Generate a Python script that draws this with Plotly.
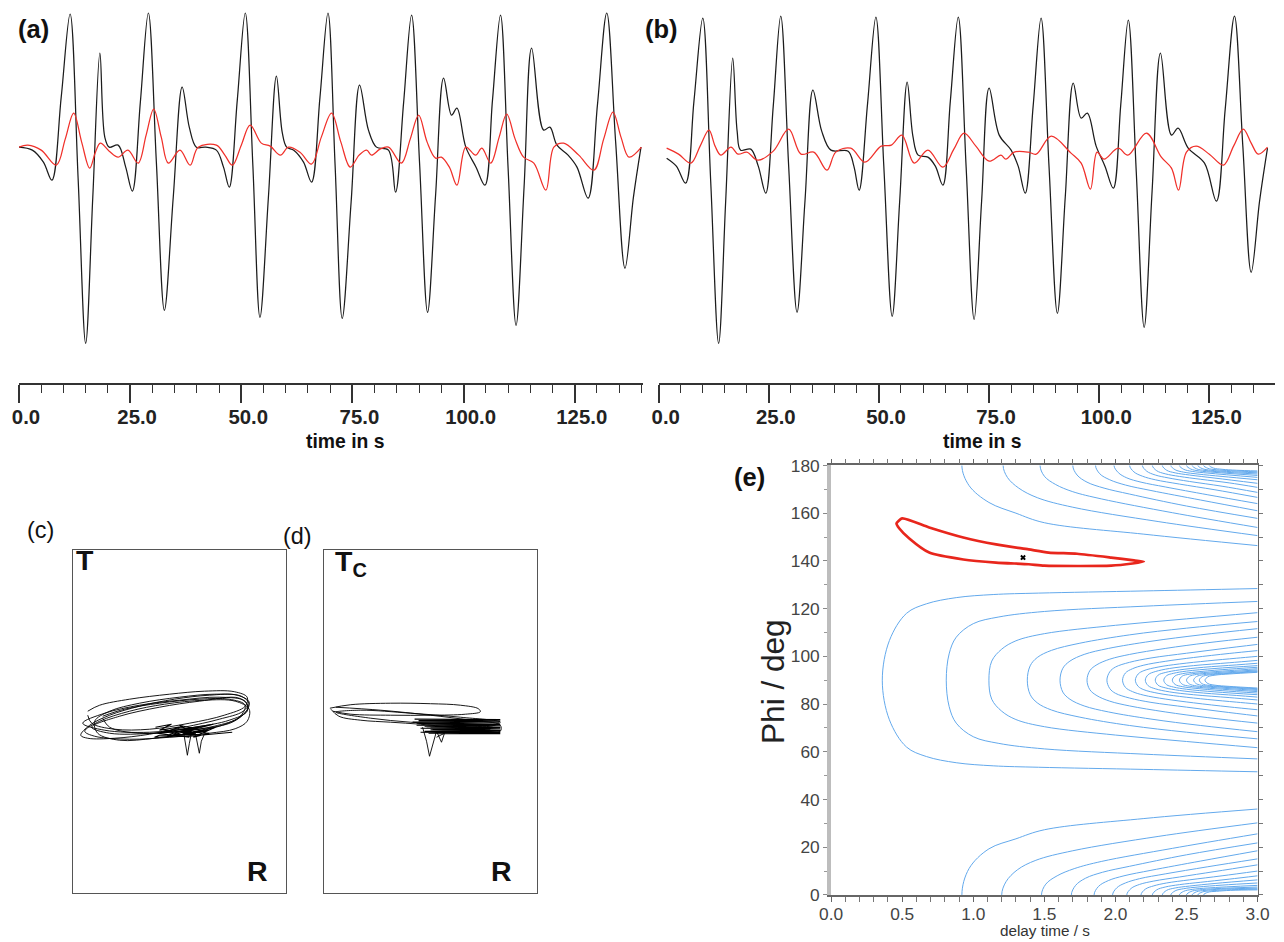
import plotly.graph_objects as go

# The rendered picture was observed to be the page scaled slightly with a small inset;
# layout positions below are given in the reference picture's pixels and mapped back.
SX, BX = 0.985, 9.0
SY, BY = 0.978, 10.0
WF, HF = 1300, 952

# ---------------- data: panel (a) ----------------
A_BLACK_T = [0, 3, 5.5, 7.4, 9.5, 11.5, 13.3, 15.0, 16.6, 18.2, 19.3, 20.3, 22.3, 24.0, 25.5, 27.3, 29.1,
             30.9, 32.7, 34.7, 36.7, 38.3, 39.9, 42, 44.4, 46, 47.3, 49.1, 50.9, 52.6, 54.2, 56.1, 57.9,
             59.2, 60.2, 61.8, 64, 65.8, 67.7, 69.5, 71.1, 72.7, 74.7, 76.6, 78.6, 80.4, 83.1, 84.7,
             86.5, 88.3, 90.1, 91.9, 93.7, 95.5, 97.3, 98.5, 100.5, 102.8, 104.8, 106.5, 108.3, 110,
             111.8, 113.6, 115.3, 118.0, 119.4, 121.0, 123.5, 125.5, 128.0, 130.1, 132.2, 134.2,
             136.3, 138.2, 139.9]
A_BLACK_V = [0, -3, -15, -33, 50, 133, -31, -196, -50, 94, 10, 0, 2, -20, -44, 45, 134,
             -15, -163, -50, 60, 20, 0, 0, -3, -20, -40, 47, 134, -18, -170, -50, 71,
             15, 0, -3, -15, -35, 50, 134, -18, -171, -55, 62, 17, 0, -3, -45,
             44, 132, -16, -165, -48, 69, 32, 39, 0, -20, -38, 47, 132, -20,
             -178, -40, 99, 17, 20, 2, -8, -20, -51, 42, 134, 5,
             -121, -50, 0]
A_RED_T = [0, 2, 5, 8.4, 10.4, 12.3, 14.1, 15.9, 17.2, 18.3, 20.3, 22.3, 24.5, 26.8, 28.6, 30.3, 32.0,
           33.6, 36.2, 38.5, 40.3, 44.4, 46.3, 48.0, 50.0, 52.0, 54.5, 56.5, 58.8, 60.6, 63.2, 65.8,
           68.0, 70.3, 72.4, 74.5, 76.5, 78.2, 79.3, 81.2, 83.1, 86.0, 88.0, 89.9, 91.8, 93.7, 95.0,
           96.8, 98.5, 100.5, 102.7, 104.1, 106.1, 108.0, 109.7, 111.6, 113.5, 115.8, 118.5, 120.3,
           122.5, 125.9, 129.3, 131.5, 133.6, 135.4, 137.2, 140]
A_RED_V = [0, 2, -3, -18, 8, 34, 5, -21, -5, 4, -4, -10, -3, -16, 12, 38, 10,
           -16, -3, -18, 0, 2, -8, -18, 2, 22, 4, 1, -8, 0, -5, -17,
           10, 34, 5, -20, -8, -3, -8, -2, 0, -16, 8, 32, 5, -11, -10,
           -20, -38, 0, -8, -1, -16, 10, 33, 8, -10, -16, -43, 0,
           4, -8, -23, 8, 35, 10, -10, 0]

# ---------------- data: panel (b) ----------------
B_BLACK_T = [1.8, 4, 6.1, 8.0, 10.0, 11.8, 13.6, 15.2, 16.8, 17.8, 18.6, 20.9, 22.6, 24.3, 26.0, 27.7,
             29.5, 31.4, 33.2, 35.0, 37.0, 39.1, 43, 44.3, 45.5, 47.4, 49.3, 51.1, 53.0, 54.7, 56.4,
             57.7, 58.9, 61.1, 62.8, 64.5, 66.2, 68.0, 69.8, 71.6, 73.3, 75.0, 77.3, 80.0, 81.6, 83.2,
             85.0, 86.8, 88.6, 90.5, 92.3, 94.1, 95.9, 97.3, 99.3, 101.3, 103.2, 104.9, 106.6, 108.4,
             110.2, 112.0, 113.9, 116.4, 117.9, 120.2, 123.9, 126.6, 128.6, 130.7, 132.6, 134.5,
             136.4, 138.2]
B_BLACK_V = [-7, -15, -32, 50, 133, -30, -192, -50, 93, 20, 1, 2, -15, -42, 45, 135,
             -15, -161, -50, 61, 20, 1, 0, -15, -39, 47, 134, -15, -165, -50, 69,
             15, -4, -6, -15, -34, 50, 134, -17, -168, -50, 63, 16, 1, -15, -42,
             45, 133, -15, -162, -45, 68, 33, 38, 5, -15, -37, 47, 131, -20,
             -176, -40, 98, 16, 23, 3, -12, -50, 42, 135, 5, -121,
             -50, 3]
B_RED_T = [1.8, 4.5, 7.3, 9.4, 11.4, 12.8, 14.1, 16.4, 18.0, 20.0, 22.5, 26.0, 29.5, 32.3, 35.2, 38.2,
           40.2, 43.6, 46.8, 50.5, 52.8, 55.2, 58.0, 61.1, 64.5, 67.0, 69.3, 72.0, 75.0, 77.7, 78.8,
           80.7, 83.9, 85.7, 89.1, 93.6, 95.9, 98.0, 99.5, 101.1, 104.3, 106.5, 110.7, 114.1, 116.4,
           118.0, 119.8, 122.0, 125.0, 128.2, 130.5, 132.7, 134.5, 136.1, 138.2]
B_RED_V = [3, -3, -12, 5, 21, 5, -4, 4, -3, -1, -9, 0, 22, -3, -1, -19,
           -1, 3, -11, 5, 6, 16, -12, 1, -16, 2, 18, 5, -10, -4, -8,
           -1, -1, -3, 15, -2, -12, -38, -1, -8, 3, -4, 18, -6, -17,
           -39, -1, 5, -3, -14, 5, 22, 8, -3, 4]

# ---------------- data: particle motion (c), (d)  [R, T] ----------------
C_LOOPS_R = [
    [-99, -90, -70, -40, -5, 30, 58, 70, 64, 40, 5, -30, -65, -92, -99],
    [-92, -80, -50, -10, 25, 55, 68, 66, 45, 10, -30, -65, -88, -92],
    [-85, -70, -40, 0, 35, 62, 70, 62, 40, 10, -25, -60, -82, -85],
    [-77, -55, -20, 20, 50, 66, 60, 35, 0, -40, -70, -77],
    [-95, -80, -50, -15, 25, 56, 70, 68, 56, 30, -10, -50, -85, -95],
    [-88, -60, -20, 20, 60, 69, 55, 20, -25, -70, -88],
    [-97, -75, -40, 0, 40, 66, 68, 50, 15, -30, -75, -97],
]
C_LOOPS_T = [
    [-14, -4, 6, 15, 22, 26, 26, 19, 10, 2, -6, -13, -17, -17, -14],
    [10, 16, 22, 27, 30, 29.5, 24, 15, 6, -2, -8, -8, -2, 6],
    [0, 10, 18, 24, 27, 25, 17, 5, -5, -12, -17, -19, -12, 0],
    [5, 12, 18, 22, 22, 16, 4, -5, -10, -12, -6, 3],
    [-10, 0, 10, 17, 21, 20, 12, 0, -7.5, -12, -16, -18, -15, -10],
    [-6, 5, 14, 20, 23, 14, 0, -8, -12, -12, -6],
    [-2, 8, 16, 21, 24, 20, 10, 1, -6, -11, -9, -2],
]
C_KNOT_R = [-24, -8, -20, 4, -16, 12, -10, 20, -2, 28, 6, 36, 14, 30, -4, 22, -18, 10, -22, 34,
            -12, 26, 0, 16, -20, -25, 10, 53]
C_KNOT_T = [-6, -3, -9, -5, -11, -7, -13, -6, -15, -9, -12, -6, -16, -12, -10, -14, -8, -16, -12, -3,
            -15, -10, -4, -13, -14, -16, -15, -11]
C_TAIL_R = [4, 6, 8, 10, 12, 16, 18, 20, 22, 25]
C_TAIL_T = [-10, -22, -34, -22, -12, -12, -22, -32, -20, -13]

D_LOOPS_R = [
    [-101, -80, -40, 0, 30, 48, 50, 35, 0, -40, -80, -98],
    [-100, -92, -70, -40, -10, 20, 50, 70, 70, 40, 0, -50, -95],
    [-95, -60, -20, 20, 60, 70, 30, -20, -70, -95],
]
D_LOOPS_T = [
    [13, 16.5, 18, 17.5, 16, 12.5, 9.5, 7, 6, 6, 7, 10],
    [12, 5, 1, -1, -3, -6, -9, -10, -4, 1, 6, 11, 14],
    [9, 3, -1, -3, -5, -1, 4, 8, 11, 9],
]
D_BAR_R = [-16, 70, -12, 70, -18, 69, -8, 70, -14, 70, -4, 70, -10, 70, 0, 70, -6, 70, 4, 70,
           -2, 70, 8, 68, 0, 60, -14, 70, -6, 70, 2, 70, -10, 68]
D_BAR_T = [2, 1.5, 0.5, 0, -1, -1.5, -2.5, -3, -4, -4.5, -5.5, -6, -7, -7.5, -8.5, -9, -10, -10.5,
           -11, -11.5, -12, -12.5, -12.5, -12, -6, -8, -2, -3.5, -5, -6.5, -8, -9.5, -11, -12]
D_TAIL_R = [-8, -4, -1, 3, 6, 11, 14, 6]
D_TAIL_T = [-6, -20, -35, -20, -10, -21, -12, -16]

# ---------------- data: panel (e) energy contours (delay time, offset from centre in deg) --------
MID_DT = [
    [0.36, 0.41, 0.53, 0.67, 0.88, 1.14, 1.46, 2.2, 3.0],
    [0.81, 0.83, 0.88, 1.0, 1.18, 1.5, 2.2, 3.0],
    [1.11, 1.13, 1.2, 1.3, 1.5, 2.0, 2.5, 3.0],
    [1.38, 1.40, 1.45, 1.55, 1.75, 2.1, 2.5, 3.0],
    [1.61, 1.63, 1.68, 1.78, 1.95, 2.25, 2.6, 3.0],
    [1.80, 1.82, 1.87, 1.96, 2.1, 2.35, 2.65, 3.0],
    [1.94, 1.96, 2.0, 2.1, 2.25, 2.5, 2.75, 3.0],
    [2.05, 2.07, 2.12, 2.2, 2.35, 2.55, 2.8, 3.0],
    [2.14, 2.16, 2.2, 2.3, 2.45, 2.65, 2.85, 3.0],
    [2.21, 2.23, 2.28, 2.38, 2.55, 2.8, 3.0],
    [2.28, 2.30, 2.35, 2.45, 2.62, 2.85, 3.0],
    [2.34, 2.36, 2.41, 2.5, 2.7, 3.0],
    [2.40, 2.42, 2.47, 2.56, 2.75, 3.0],
    [2.45, 2.47, 2.52, 2.62, 2.8, 3.0],
    [2.50, 2.52, 2.57, 2.67, 3.0],
    [2.55, 2.57, 2.62, 2.72, 3.0],
    [2.59, 2.61, 2.66, 2.76, 3.0],
    [2.63, 2.65, 2.70, 2.80, 3.0],
]
MID_DELTA = [
    [0, 16.6, 28, 32, 34.6, 35.9, 36.5, 37.4, 38.4],
    [0, 11, 18, 23.7, 26.5, 28.8, 31, 33],
    [0, 8, 13, 16.5, 19.5, 23, 25.7, 28.3],
    [0, 6, 9.5, 12.5, 15.5, 19, 21.8, 24.6],
    [0, 5, 8, 10.8, 13.3, 16.3, 19, 21.6],
    [0, 4, 6.5, 8.8, 10.8, 13.3, 15.7, 18],
    [0, 3.5, 5.5, 7.5, 9.3, 11.3, 13.2, 15],
    [0, 3, 4.8, 6.3, 7.9, 9.5, 11.2, 12.4],
    [0, 2.6, 4, 5.5, 6.8, 8.1, 9.2, 10],
    [0, 2.3, 3.6, 4.9, 6.1, 7.3, 8.3],
    [0, 2.1, 3.2, 4.3, 5.4, 6.4, 7.1],
    [0, 1.9, 2.9, 3.8, 4.9, 6.1],
    [0, 1.8, 2.7, 3.4, 4.4, 5.4],
    [0, 1.7, 2.5, 3.2, 4.0, 4.8],
    [0, 1.6, 2.4, 3.0, 4.3],
    [0, 1.5, 2.3, 2.8, 3.9],
    [0, 1.5, 2.2, 2.7, 3.6],
    [0, 1.4, 2.1, 2.6, 3.3],
]
TOP_DT = [
    [0.92, 0.97, 1.11, 1.30, 1.5, 2.2, 3.0],
    [1.21, 1.24, 1.32, 1.45, 1.7, 2.3, 3.0],
    [1.47, 1.50, 1.58, 1.7, 1.9, 2.4, 3.0],
    [1.70, 1.73, 1.8, 1.92, 2.1, 2.5, 3.0],
    [1.86, 1.89, 1.96, 2.07, 2.25, 2.6, 3.0],
    [1.99, 2.02, 2.08, 2.18, 2.35, 2.65, 3.0],
    [2.10, 2.13, 2.19, 2.28, 2.45, 2.7, 3.0],
    [2.19, 2.22, 2.28, 2.37, 2.52, 2.75, 3.0],
    [2.26, 2.29, 2.35, 2.45, 2.6, 2.8, 3.0],
    [2.33, 2.36, 2.42, 2.52, 2.7, 3.0],
    [2.39, 2.42, 2.48, 2.58, 2.75, 3.0],
    [2.45, 2.48, 2.54, 2.65, 3.0],
    [2.50, 2.53, 2.59, 2.7, 3.0],
    [2.54, 2.57, 2.63, 2.74, 3.0],
    [2.58, 2.61, 2.67, 2.78, 3.0],
    [2.62, 2.65, 2.71, 2.81, 3.0],
    [2.66, 2.69, 2.75, 2.85, 3.0],
]
TOP_DELTA = [
    [0, 8.4, 15.5, 20, 24, 28.8, 33.6],
    [0, 5, 9.5, 13.5, 17.5, 23.5, 29.4],
    [0, 4.5, 8, 11, 14, 19.8, 26],
    [0, 4, 7, 9.5, 12, 17, 22.2],
    [0, 3.5, 6, 8.2, 10.5, 14.5, 19],
    [0, 3, 5.2, 7, 9, 12.3, 16],
    [0, 2.7, 4.5, 6, 7.8, 10.2, 13.4],
    [0, 2.4, 4, 5.2, 6.7, 8.7, 11.3],
    [0, 2.2, 3.5, 4.6, 5.8, 7.3, 9.2],
    [0, 2, 3.1, 4, 5.3, 7.5],
    [0, 1.8, 2.8, 3.6, 4.6, 6],
    [0, 1.6, 2.5, 3.2, 5],
    [0, 1.5, 2.3, 2.9, 4.2],
    [0, 1.4, 2.1, 2.7, 3.6],
    [0, 1.3, 2, 2.5, 3.1],
    [0, 1.2, 1.8, 2.2, 2.7],
    [0, 1.1, 1.6, 2.0, 2.3],
]
BOT_DT = [
    [0.92, 0.97, 1.11, 1.30, 1.5, 2.2, 3.0],
    [1.20, 1.23, 1.31, 1.44, 1.7, 2.3, 3.0],
    [1.48, 1.51, 1.59, 1.71, 1.9, 2.4, 3.0],
    [1.69, 1.72, 1.79, 1.91, 2.1, 2.5, 3.0],
    [1.85, 1.88, 1.95, 2.06, 2.25, 2.6, 3.0],
    [1.98, 2.01, 2.07, 2.17, 2.35, 2.65, 3.0],
    [2.08, 2.11, 2.17, 2.27, 2.45, 2.7, 3.0],
    [2.18, 2.21, 2.27, 2.36, 2.52, 2.75, 3.0],
    [2.26, 2.29, 2.35, 2.45, 2.6, 2.8, 3.0],
    [2.33, 2.36, 2.42, 2.52, 2.7, 3.0],
    [2.39, 2.42, 2.48, 2.58, 2.75, 3.0],
    [2.45, 2.48, 2.54, 2.65, 3.0],
    [2.50, 2.53, 2.59, 2.7, 3.0],
    [2.54, 2.57, 2.63, 2.74, 3.0],
    [2.58, 2.61, 2.67, 2.78, 3.0],
    [2.62, 2.65, 2.71, 2.81, 3.0],
]
BOT_DELTA = [
    [0, 11, 19.3, 23.5, 27.3, 32, 36],
    [0, 5.5, 10.5, 14.5, 18.5, 24.5, 30.2],
    [0, 4.5, 8, 11, 14, 19.5, 25.6],
    [0, 4, 7, 9.5, 12, 16.8, 21.8],
    [0, 3.5, 6, 8, 10.3, 14.2, 18.5],
    [0, 3, 5, 6.8, 8.8, 11.8, 15.1],
    [0, 2.7, 4.4, 5.8, 7.5, 9.8, 12.6],
    [0, 2.4, 3.8, 5, 6.3, 8, 10],
    [0, 2.1, 3.3, 4.3, 5.3, 6.6, 8],
    [0, 1.9, 2.9, 3.7, 4.8, 6.3],
    [0, 1.7, 2.6, 3.3, 4.1, 5],
    [0, 1.5, 2.3, 2.9, 4],
    [0, 1.4, 2.1, 2.6, 3.3],
    [0, 1.3, 1.9, 2.4, 2.8],
    [0, 1.2, 1.7, 2.1, 2.4],
    [0, 1.1, 1.5, 1.9, 2.1],
]
CONF_DT = [0.46, 0.50, 0.69, 0.93, 1.16, 1.39, 1.53, 1.73, 1.97, 2.13, 2.20, 2.12, 1.97, 1.50,
           1.39, 1.16, 0.93, 0.69, 0.55, 0.48, 0.46]
CONF_PHI = [155.7, 157.8, 154, 149.8, 146.9, 144.8, 143.5, 143, 141.4, 140.2, 139.7, 138.9, 138,
            138, 138.6, 139.3, 140.6, 143.5, 149.4, 153.6, 155.7]
BEST_DT = [1.35]
BEST_PHI = [141.4]


def clamp(v):
    return min(1.0, max(0.0, v))


def px(p):
    return clamp((p - BX) / SX / WF)


def py(p):
    return clamp(1 - (p - BY) / SY / HF)


def sz(v):
    return v / (0.5 * (SX + SY))


fig = go.Figure()
BLACK = '#1c1c1c'
RED = '#f0302a'
BLUE = '#63a9ec'


def wave(x, y, color, ax):
    fig.add_trace(go.Scatter(x=x, y=y, mode='lines', xaxis='x' + ax, yaxis='y' + ax,
                             line=dict(color=color, width=1.25, shape='spline', smoothing=1.0),
                             showlegend=False, hoverinfo='skip', cliponaxis=False))


wave(A_BLACK_T, A_BLACK_V, BLACK, '')
wave(A_RED_T, A_RED_V, RED, '')
wave(B_BLACK_T, B_BLACK_V, BLACK, '2')
wave(B_RED_T, B_RED_V, RED, '2')


def loops(rs, ts):
    xs, ys = [], []
    for r, t in zip(rs, ts):
        xs += r + [None]
        ys += t + [None]
    return xs, ys


def pm(x, y, ax, shape, w=0.9):
    fig.add_trace(go.Scatter(x=x, y=y, mode='lines', xaxis='x' + ax, yaxis='y' + ax,
                             line=dict(color='black', width=w, shape=shape), showlegend=False,
                             hoverinfo='skip'))


cx, cy = loops(C_LOOPS_R, C_LOOPS_T)
pm(cx, cy, '3', 'spline')
pm(C_KNOT_R, C_KNOT_T, '3', 'linear', 1.1)
pm(C_TAIL_R, C_TAIL_T, '3', 'linear')
dx, dy = loops(D_LOOPS_R, D_LOOPS_T)
pm(dx, dy, '4', 'spline')
pm(D_BAR_R, D_BAR_T, '4', 'linear', 1.2)
pm(D_TAIL_R, D_TAIL_T, '4', 'linear')

# contour lines (e)
ex, ey = [], []
for dts, ds in zip(MID_DT, MID_DELTA):
    ex += dts[::-1] + dts[1:] + [None]
    ey += [90 - d for d in ds[::-1]] + [90 + d for d in ds[1:]] + [None]
for dts, ds in zip(TOP_DT, TOP_DELTA):
    ex += [dts[1]] + dts + [None]
    ey += [180 + ds[1]] + [180 - d for d in ds] + [None]
for dts, ds in zip(BOT_DT, BOT_DELTA):
    ex += [dts[1]] + dts + [None]
    ey += [-ds[1]] + ds + [None]
fig.add_trace(go.Scatter(x=ex, y=ey, mode='lines', xaxis='x5', yaxis='y5',
                         line=dict(color=BLUE, width=1, shape='spline'), showlegend=False,
                         hoverinfo='skip'))
fig.add_trace(go.Scatter(x=CONF_DT, y=CONF_PHI, mode='lines', xaxis='x5', yaxis='y5',
                         line=dict(color='#e8261c', width=2.7, shape='spline', smoothing=0.6),
                         showlegend=False))
fig.add_trace(go.Scatter(x=BEST_DT, y=BEST_PHI, mode='markers', xaxis='x5', yaxis='y5',
                         marker=dict(symbol='x', size=5, color='black'), showlegend=False))
fig.add_trace(go.Scatter(x=[0, 3], y=[0, 0], mode='lines', xaxis='x5', yaxis='y6',
                         line=dict(width=0), showlegend=False, hoverinfo='skip'))

TICKFONT = dict(family='Liberation Sans, Arial', size=sz(20), color='#222', weight='bold')


def time_axis(d0, d1, rng, anchor):
    return dict(domain=[px(d0), px(d1)], range=rng, anchor=anchor, showline=True, linecolor='#333',
                linewidth=1.5, ticks='outside', ticklen=sz(18), tickwidth=1.5, tickcolor='#333',
                tick0=0, dtick=25, tickformat='.1f', tickfont=TICKFONT, ticklabelshift=7,
                ticklabelstandoff=-4,
                minor=dict(dtick=5, ticklen=sz(8), tickwidth=1.3, tickcolor='#333', ticks='outside'),
                showgrid=False, zeroline=False)


def box_axis(d0, d1, rng, anchor, vertical=False):
    dom = [py(d1), py(d0)] if vertical else [px(d0), px(d1)]
    return dict(domain=dom, range=rng, anchor=anchor, showline=True, mirror=True,
                linecolor='#555', linewidth=1.3, ticks='', showticklabels=False,
                showgrid=False, zeroline=False)


EFONT = dict(family='Liberation Sans, Arial', size=sz(17), color='#444')

fig.update_layout(
    width=WF, height=HF, margin=dict(l=0, r=0, t=0, b=0),
    paper_bgcolor='white', plot_bgcolor='rgba(0,0,0,0)',
    xaxis=time_axis(16, 642, [0, 140.3], 'y'),
    yaxis=dict(domain=[py(383), py(10)], range=[-236, 137], visible=False, anchor='x'),
    xaxis2=time_axis(658, 1276, [0, 139.8], 'y2'),
    yaxis2=dict(domain=[py(383), py(10)], range=[-232, 141], visible=False, anchor='x2'),
    xaxis3=box_axis(70, 284, [-107, 107], 'y3'),
    yaxis3=box_axis(549, 892, [-171.5, 171.5], 'x3', vertical=True),
    xaxis4=box_axis(322, 536, [-107, 107], 'y4'),
    yaxis4=box_axis(549, 892, [-171.5, 171.5], 'x4', vertical=True),
    xaxis5=dict(domain=[px(831), px(1259)], range=[0, 3], anchor='y5', showline=True,
                linecolor='#666', linewidth=1.5, mirror='allticks', ticks='outside', ticklen=5,
                tickcolor='#666', tick0=0, dtick=0.5, tickformat='.1f', tickfont=EFONT,
                ticklabelstandoff=-2,
                minor=dict(dtick=0.1, ticklen=3, tickcolor='#777', ticks='outside'),
                showgrid=False, zeroline=False),
    yaxis5=dict(domain=[py(894), py(465)], range=[0, 180], anchor='x5', showline=True,
                linecolor='#bdbdbd', linewidth=4, ticks='outside', ticklen=4, tickcolor='#888',
                tick0=0, dtick=20, tickfont=EFONT,
                minor=dict(dtick=10, ticklen=3, tickcolor='#999', ticks='outside'),
                showgrid=False, zeroline=False),
    yaxis6=dict(domain=[py(894), py(465)], range=[0, 180], anchor='x5', overlaying='y5',
                side='right', showline=True, linecolor='#666', linewidth=1.2, ticks='outside',
                ticklen=4, tickcolor='#777', dtick=10, showticklabels=False, showgrid=False,
                zeroline=False),
)

BOLD = dict(family='Liberation Sans, Arial', color='#111', weight='bold')
REG = dict(family='Liberation Sans, Arial', color='#111')


def label(x, y, text, font, size, yanchor='middle', **kw):
    f = dict(font)
    f['size'] = sz(size)
    fig.add_annotation(x=px(x), y=py(y), xref='paper', yref='paper', text=text, showarrow=False,
                       font=f, xanchor='center', yanchor=yanchor, **kw)


label(31, 29, '(a)', BOLD, 25)
label(661, 29, '(b)', BOLD, 25)
label(343, 441, 'time in s', BOLD, 19)
label(982, 441, 'time in s', BOLD, 19)
label(38, 529, '(c)', REG, 23)
label(296, 535, '(d)', REG, 23)
label(82, 559, 'T', BOLD, 28)
label(255, 870, 'R', BOLD, 28)
label(349, 562, 'T<sub>C</sub>', BOLD, 28)
label(500, 870, 'R', BOLD, 28)
label(749, 477, '(e)', BOLD, 25)
label(772, 681, 'Phi / deg', dict(family='Liberation Sans, Arial', color='#222'), 31, textangle=-90)
label(1046, 940, 'delay time / s', dict(family='Liberation Sans, Arial', color='#333'), 15,
      yanchor='bottom')

fig.write_html('out.html')
